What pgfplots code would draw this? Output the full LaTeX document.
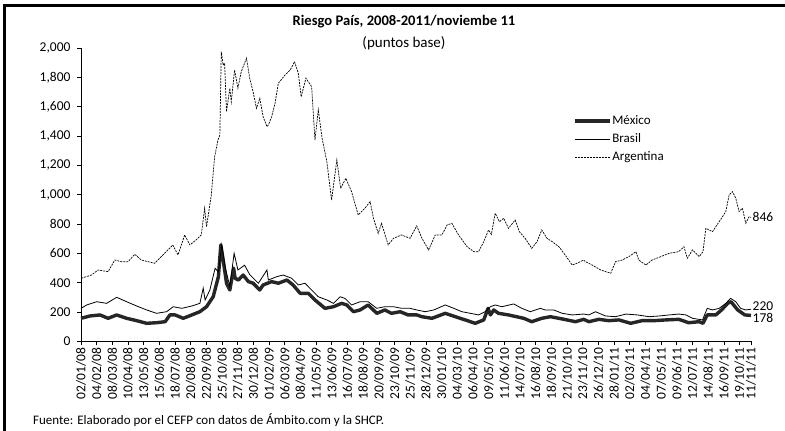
\documentclass[border=0pt]{standalone}
\usepackage{pgfplots}
\pgfplotsset{compat=1.18}
\usepackage{fontspec}
\setmainfont{Carlito}
\begin{document}
\begin{tikzpicture}[x=1pt,y=1pt]
\path[use as bounding box] (0pt,0pt) rectangle (785pt,431pt);
\draw[line width=3pt] (4pt,425.5pt) -- (785pt,425.5pt);
\draw[line width=3pt] (4pt,0pt) -- (4pt,427pt);
\node[font=\fontsize{14.6}{16}\selectfont\bfseries] at (404pt,409pt) {Riesgo País, 2008-2011/noviembe 11};
\node[font=\fontsize{15}{17}\selectfont] at (404pt,388pt) {(puntos base)};
\node[font=\fontsize{13}{15}\selectfont, anchor=west, inner sep=0pt] at (33pt,11pt) {Fuente: Elaborado por el CEFP con datos de Ámbito.com y la SHCP.};
\begin{axis}[
  at={(81pt,89.5pt)}, anchor=south west,
  scale only axis, width=670pt, height=293.5pt,
  xmin=0, xmax=1409, ymin=0, ymax=2000,
  axis lines*=left,
  axis line style={black, line width=0.8pt},
  tick style={black, line width=0.8pt},
  tick align=outside, major tick length=4pt,
  ytick={0,200,...,2000},
  /pgf/number format/assume math mode=true,
  /pgf/number format/1000 sep={,},
  yticklabel style={font=\fontsize{13.5}{15}\selectfont, xshift=-3pt},
  xtick={0,33,66,98.9,131.9,164.9,197.9,230.8,263.8,296.8,329.8,362.7,395.7,428.7,461.7,494.6,527.6,560.6,593.6,626.5,659.5,692.5,725.5,758.4,791.4,824.4,857.4,890.4,923.3,956.3,989.3,1022.3,1055.2,1088.2,1121.2,1154.2,1187.1,1220.1,1253.1,1286.1,1319,1352,1385,1409},
  xticklabels={02/01/08,04/02/08,08/03/08,10/04/08,13/05/08,15/06/08,18/07/08,20/08/08,22/09/08,25/10/08,27/11/08,30/12/08,01/02/09,06/03/09,08/04/09,11/05/09,13/06/09,16/07/09,18/08/09,20/09/09,23/10/09,25/11/09,28/12/09,30/01/10,04/03/10,06/04/10,09/05/10,11/06/10,14/07/10,16/08/10,18/09/10,21/10/10,23/11/10,26/12/10,28/01/11,02/03/11,04/04/11,07/05/11,09/06/11,12/07/11,14/08/11,16/09/11,19/10/11,11/11/11},
  xticklabel style={rotate=90, anchor=east, font=\fontsize{13.5}{15}\selectfont, inner sep=2pt},
  clip=false,
  legend style={at={(0.734,0.773)}, anchor=north west, draw=none, fill=none,
    font=\fontsize{13}{15}\selectfont, row sep=5.5pt, inner sep=0pt,
    nodes={inner sep=1pt}},
  legend cell align=left,
  legend image code/.code={\draw[#1] (0pt,0pt) -- (35pt,0pt);},
]
\addplot[black!85, line width=3.4pt, line join=round] coordinates {
(0,158)(19,174)(40,181)(57,158)(75,181)(96,158)(117,142)(138,124)(159,128)(177,135)(187,181)(198,181)(215,158)(233,181)(250,203)(264,237)(278,305)(289,442)(294,658)(299,555)(306,397)(313,351)(321,500)(324,431)(331,419)(341,453)(352,408)(362,397)(376,351)(383,385)(401,408)(415,397)(433,419)(446,385)(461,328)(478,328)(492,283)(513,226)(531,237)(548,260)(559,249)(573,203)(587,215)(604,249)(622,192)(639,215)(653,192)(671,203)(688,181)(706,181)(717,169)(738,158)(766,192)(787,169)(808,147)(829,124)(847,147)(856,226)(861,181)(868,215)(878,192)(899,181)(931,158)(948,135)(969,158)(987,169)(1005,158)(1022,147)(1040,135)(1057,151)(1068,135)(1089,151)(1110,142)(1131,147)(1156,124)(1180,142)(1205,142)(1230,147)(1257,151)(1278,128)(1300,135)(1308,124)(1317,181)(1335,181)(1347,215)(1360,260)(1367,271)(1381,215)(1396,181)(1409,178)
};
\addlegendentry{México}
\addplot[black, line width=0.8pt] coordinates {
(0,226)(12,249)(33,271)(54,260)(75,301)(96,271)(117,242)(138,215)(159,192)(180,203)(194,237)(212,226)(233,242)(250,260)(257,363)(261,283)(271,351)(282,499)(289,476)(296,658)(303,510)(313,374)(322,601)(330,487)(344,520)(355,455)(373,397)(391,487)(394,419)(412,442)(425,453)(443,431)(457,385)(471,397)(485,351)(499,305)(517,283)(531,260)(545,305)(555,294)(569,249)(587,271)(604,271)(622,226)(639,237)(657,237)(674,226)(692,226)(706,215)(724,203)(742,215)(766,249)(784,226)(801,203)(819,192)(836,181)(850,203)(861,237)(871,249)(885,237)(910,256)(927,226)(945,203)(966,226)(976,215)(994,215)(1012,192)(1033,181)(1057,187)(1068,181)(1082,203)(1103,174)(1124,169)(1146,187)(1170,181)(1195,169)(1216,174)(1237,181)(1257,187)(1272,181)(1286,158)(1307,147)(1317,226)(1328,215)(1342,226)(1356,260)(1366,294)(1377,271)(1387,226)(1398,215)(1409,220)
};
\addlegendentry{Brasil}
\addplot[black, line width=0.7pt, dash pattern=on 2pt off 1pt] coordinates {
(1,431)(22,453)(36,487)(57,476)(71,555)(85,544)(99,544)(113,594)(127,555)(141,544)(155,533)(176,601)(193,658)(204,590)(218,726)(229,658)(242,692)(253,726)(260,908)(264,782)(274,998)(281,1259)(288,1373)(292,1407)(295,1975)(299,1884)(302,1896)(306,1566)(313,1726)(316,1634)(323,1850)(330,1726)(337,1839)(348,1930)(355,1790)(362,1700)(369,1589)(376,1657)(383,1532)(391,1464)(394,1475)(401,1532)(408,1623)(415,1760)(418,1771)(429,1816)(440,1850)(449,1907)(457,1828)(463,1668)(473,1794)(485,1737)(492,1373)(499,1578)(507,1385)(517,1225)(527,964)(538,1237)(546,1044)(557,1112)(569,1021)(583,862)(597,908)(608,953)(615,840)(625,737)(632,805)(646,658)(657,703)(674,726)(692,703)(706,788)(717,703)(731,624)(745,726)(759,726)(770,794)(780,805)(794,726)(812,646)(826,612)(836,612)(847,680)(857,760)(863,730)(871,874)(880,816)(889,840)(899,771)(913,828)(922,748)(934,703)(948,635)(959,680)(969,760)(980,703)(991,680)(1005,646)(1018,590)(1033,521)(1043,533)(1057,555)(1061,544)(1075,521)(1093,487)(1114,465)(1124,544)(1138,555)(1152,578)(1167,612)(1173,555)(1188,521)(1201,555)(1219,578)(1237,601)(1257,612)(1268,646)(1275,567)(1286,624)(1300,578)(1308,612)(1314,771)(1328,748)(1342,816)(1356,885)(1363,998)(1370,1021)(1377,976)(1384,885)(1391,908)(1398,805)(1405,850)(1409,846)
};
\addlegendentry{Argentina}
\node[anchor=west, inner sep=1.5pt, font=\fontsize{13.5}{15}\selectfont] at (axis cs:1409,846) {846};
\node[anchor=west, inner sep=1.5pt, font=\fontsize{13.5}{15}\selectfont] at (axis cs:1409,242) {220};
\node[anchor=west, inner sep=1.5pt, font=\fontsize{13.5}{15}\selectfont] at (axis cs:1409,160) {178};
\end{axis}
\end{tikzpicture}
\end{document}
